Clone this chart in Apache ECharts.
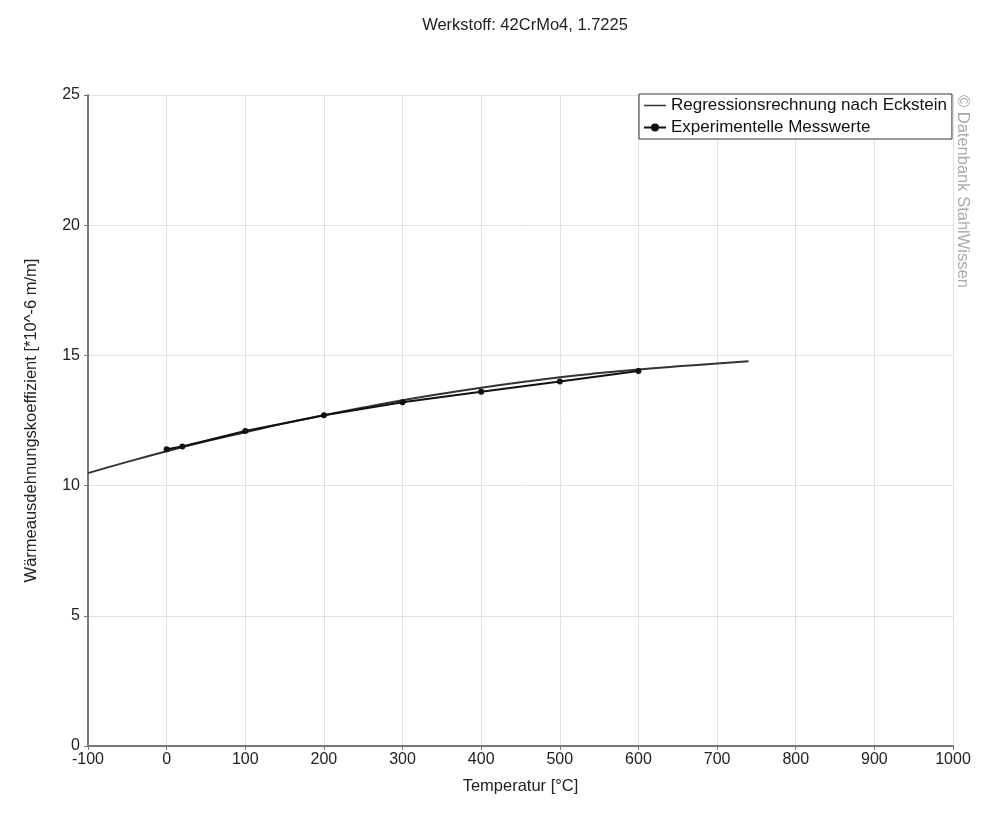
<!DOCTYPE html>
<html><head><meta charset="utf-8">
<script src="https://cdn.jsdelivr.net/npm/echarts@6/dist/echarts.min.js"></script>
<style>html,body{margin:0;padding:0;background:#fff}#c{width:1000px;height:839px}</style>
</head><body><div id="c"></div>
<script>
var regX = [-100,-50,0,50,100,150,200,250,300,350,400,450,500,550,600,650,700,740];
var regY = [10.48,10.91,11.32,11.70,12.05,12.39,12.70,13.00,13.28,13.53,13.76,13.97,14.16,14.32,14.46,14.58,14.69,14.78];
var expX = [0,20,100,200,300,400,500,600];
var expY = [11.4,11.5,12.1,12.7,13.2,13.6,14.0,14.4];
var xTicks = [-100,0,100,200,300,400,500,600,700,800,900,1000];
var yTicks = [0,5,10,15,20,25];

var chart = echarts.init(document.getElementById('c'));
var font = 'Arial, "Liberation Sans", sans-serif';
chart.setOption({
  backgroundColor:'#fff',
  animation:false,
  title:{text:'Werkstoff: 42CrMo4, 1.7225',left:520,textAlign:'center',top:12,
    textStyle:{fontFamily:font,fontSize:16.5,fontWeight:'normal',color:'#222'}},
  graphic:[{type:'text',left:954,top:95,rotation:-Math.PI/2,
    style:{text:'© Datenbank StahlWissen',fontFamily:font,fontSize:16.5,fill:'#aaa'}}],
  legend:{orient:'vertical',left:639,top:94,itemGap:5,padding:[3,5,3,4],
    backgroundColor:'#fff',borderColor:'#333',borderWidth:1,borderRadius:0,
    itemWidth:22,itemHeight:10,
    textStyle:{fontFamily:font,fontSize:17,color:'#111'},
    data:[{name:'Regressionsrechnung nach Eckstein',icon:'path://M0,0L22,0L22,1.5L0,1.5Z'},
          {name:'Experimentelle Messwerte'}]},
  grid:{left:88,right:47,top:95,bottom:93},
  xAxis:{type:'value',min:-100,max:1000,interval:100,
    name:'Temperatur [°C]',nameLocation:'middle',nameGap:32,
    nameTextStyle:{fontFamily:font,fontSize:16.5,color:'#222'},
    axisLine:{lineStyle:{color:'#777',width:2}},
    axisTick:{show:true,length:4,lineStyle:{color:'#777'}},
    axisLabel:{fontFamily:font,fontSize:16,color:'#222',margin:6,
      formatter:function(v){return String(v);}},
    splitLine:{lineStyle:{color:'#e0e0e0',width:1}}},
  yAxis:{type:'value',min:0,max:25,interval:5,
    name:'Wärmeausdehnungskoeffizient [*10^-6 m/m]',nameLocation:'middle',nameGap:48,
    nameTextStyle:{fontFamily:font,fontSize:16.5,color:'#222'},
    axisLine:{show:true,onZero:false,lineStyle:{color:'#777',width:2}},
    axisTick:{show:true,length:4,lineStyle:{color:'#777'}},
    axisLabel:{fontFamily:font,fontSize:16,color:'#222',margin:8},
    splitLine:{lineStyle:{color:'#e0e0e0',width:1}}},
  series:[
    {name:'Regressionsrechnung nach Eckstein',type:'line',smooth:true,showSymbol:false,symbol:'none',
     lineStyle:{color:'#333',width:2},itemStyle:{color:'#333'},
     data:regX.map(function(x,i){return [x,regY[i]];})},
    {name:'Experimentelle Messwerte',type:'line',symbol:'circle',symbolSize:6,
     lineStyle:{color:'#111',width:2},itemStyle:{color:'#111'},
     data:expX.map(function(x,i){return [x,expY[i]];})}
  ]
});
</script></body></html>
